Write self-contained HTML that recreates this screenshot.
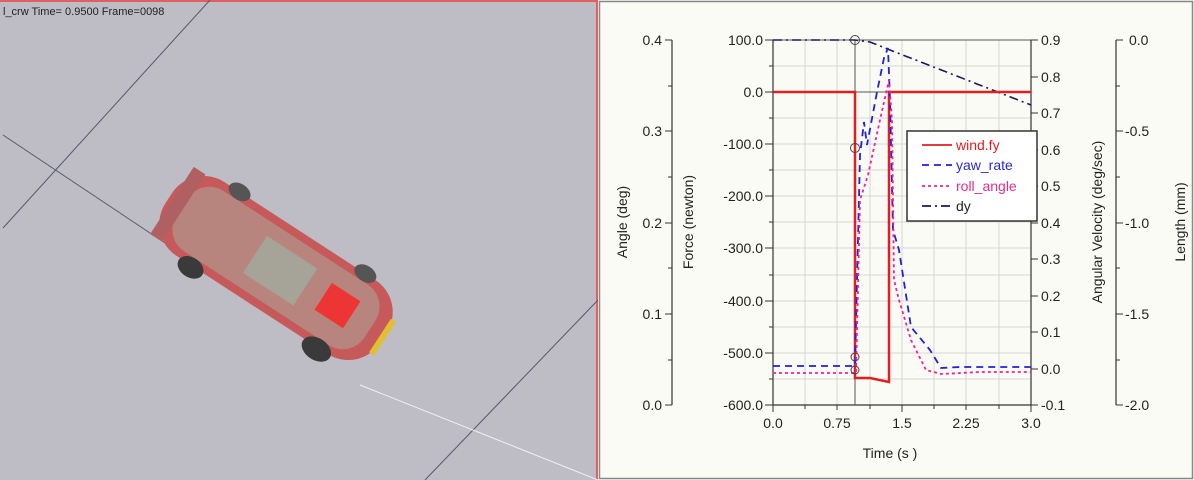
<!DOCTYPE html>
<html><head><meta charset="utf-8"><style>
html,body{margin:0;padding:0;width:1194px;height:480px;overflow:hidden;background:#fff}
svg{display:block;font-family:"Liberation Sans",Arial,sans-serif}
</style></head><body>
<svg width="1194" height="480" viewBox="0 0 1194 480">
<rect x="0" y="0" width="598" height="480" fill="#bebcc4"/>
<rect x="0" y="0" width="598" height="2" fill="#e06060"/>
<rect x="596" y="0" width="2" height="480" fill="#e06060"/>
<text x="3" y="15" font-size="11" fill="#222">l_crw   Time=  0.9500  Frame=0098</text>
<g stroke="#555a70" stroke-width="1" fill="none">
<line x1="3" y1="228" x2="210" y2="0"/>
<line x1="3" y1="135" x2="165" y2="243"/>
<line x1="425" y1="480" x2="598" y2="300"/>
</g>
<line x1="360" y1="385" x2="598" y2="480" stroke="#f0f0f0" stroke-width="1"/>
<g transform="translate(276,268) rotate(33)">
<rect x="-128" y="-44" width="256" height="88" rx="38" fill="#c65a5a"/>
<rect x="-112" y="-36" width="224" height="72" rx="26" fill="#b8847e"/>
<rect x="-25" y="-22" width="60" height="44" fill="#a6a498"/>
<rect x="55" y="-18" width="34" height="32" fill="#ee3535"/>
<rect x="-124" y="-40" width="14" height="80" fill="#b06060"/>
<ellipse cx="-72" cy="46" rx="14" ry="10" fill="#3a3a3a"/>
<ellipse cx="78" cy="46" rx="16" ry="11" fill="#3a3a3a"/>
<ellipse cx="-72" cy="-44" rx="12" ry="8" fill="#555"/>
<ellipse cx="78" cy="-44" rx="12" ry="8" fill="#555"/>
<rect x="124" y="-20" width="6" height="40" fill="#e0c030"/>
</g>
<rect x="598" y="0" width="596" height="480" fill="#fbfbf6"/>
<rect x="599.5" y="1.5" width="593" height="477" fill="none" stroke="#888" stroke-width="1.5"/>
<g stroke="#d4d4d4" stroke-width="1">
<line x1="805" y1="40" x2="805" y2="405"/><line x1="837" y1="40" x2="837" y2="405"/><line x1="870" y1="40" x2="870" y2="405"/><line x1="902" y1="40" x2="902" y2="405"/><line x1="934" y1="40" x2="934" y2="405"/><line x1="966" y1="40" x2="966" y2="405"/><line x1="999" y1="40" x2="999" y2="405"/>
<line x1="773" y1="66" x2="1031" y2="66"/><line x1="773" y1="118" x2="1031" y2="118"/><line x1="773" y1="144" x2="1031" y2="144"/><line x1="773" y1="170" x2="1031" y2="170"/><line x1="773" y1="196" x2="1031" y2="196"/><line x1="773" y1="222" x2="1031" y2="222"/><line x1="773" y1="248" x2="1031" y2="248"/><line x1="773" y1="275" x2="1031" y2="275"/><line x1="773" y1="301" x2="1031" y2="301"/><line x1="773" y1="327" x2="1031" y2="327"/><line x1="773" y1="353" x2="1031" y2="353"/><line x1="773" y1="379" x2="1031" y2="379"/>
</g>
<line x1="773" y1="92" x2="1031" y2="92" stroke="#555" stroke-width="1"/>
<line x1="773" y1="40" x2="1031" y2="40" stroke="#555" stroke-width="1"/>
<g stroke="#333" stroke-width="1.2" fill="none">
<line x1="672" y1="40" x2="672" y2="405"/>
<line x1="773" y1="40" x2="773" y2="405"/>
<line x1="773" y1="405" x2="1031" y2="405"/>
<line x1="1031" y1="40" x2="1031" y2="405"/>
<line x1="1116" y1="40" x2="1116" y2="405"/>
</g>
<g stroke="#333" stroke-width="1">
<path d="M665 40h7M665 131h7M665 223h7M665 314h7M665 405h7M668 86h4M668 177h4M668 268h4M668 360h4"/>
<path d="M765 40h8M765 92h8M765 144h8M765 196h8M765 248h8M765 301h8M765 353h8M765 405h8M769 66h4M769 118h4M769 170h4M769 222h4M769 275h4M769 327h4M769 379h4"/>
<path d="M1031 40h7M1031 77h7M1031 113h7M1031 150h7M1031 186h7M1031 223h7M1031 259h7M1031 296h7M1031 332h7M1031 369h7M1031 405h7"/>
<path d="M1116 40h7M1116 131h7M1116 223h7M1116 314h7M1116 405h7M1116 86h4M1116 177h4M1116 268h4M1116 360h4"/>
<path d="M773 405v7M837 405v5M902 405v7M966 405v5M1031 405v7M805 405v4M870 405v4M934 405v4M999 405v4"/>
</g>
<g font-size="14" fill="#222" text-anchor="end">
<text x="662" y="45">0.4</text><text x="662" y="136">0.3</text><text x="662" y="228">0.2</text><text x="662" y="319">0.1</text><text x="662" y="410">0.0</text>
<text x="763" y="45">100.0</text><text x="763" y="97">0.0</text><text x="763" y="149">-100.0</text><text x="763" y="201">-200.0</text><text x="763" y="253">-300.0</text><text x="763" y="306">-400.0</text><text x="763" y="358">-500.0</text><text x="763" y="410">-600.0</text>
</g>
<g font-size="14" fill="#222">
<text x="1041" y="45">0.9</text><text x="1041" y="82">0.8</text><text x="1041" y="118">0.7</text><text x="1041" y="155">0.6</text><text x="1041" y="191">0.5</text><text x="1041" y="228">0.4</text><text x="1041" y="264">0.3</text><text x="1041" y="301">0.2</text><text x="1041" y="337">0.1</text><text x="1041" y="374">0.0</text><text x="1041" y="410">-0.1</text>
<text x="1129" y="45">0.0</text><text x="1125" y="136">-0.5</text><text x="1125" y="228">-1.0</text><text x="1125" y="319">-1.5</text><text x="1125" y="410">-2.0</text>
</g>
<g font-size="14" fill="#222" text-anchor="middle">
<text x="773" y="428">0.0</text><text x="837" y="428">0.75</text><text x="902" y="428">1.5</text><text x="966" y="428">2.25</text><text x="1031" y="428">3.0</text>
<text x="890" y="458">Time (s  )</text>
<text transform="translate(627,222) rotate(-90)">Angle (deg)</text>
<text transform="translate(693,222) rotate(-90)">Force (newton)</text>
<text transform="translate(1102,222) rotate(-90)">Angular Velocity (deg/sec)</text>
<text transform="translate(1185,222) rotate(-90)">Length (mm)</text>
</g>
<line x1="855" y1="40" x2="855" y2="405" stroke="#555" stroke-width="1"/>
<polyline points="773,40 855,40 870,42 890,50 1031,105" fill="none" stroke="#1a1a5a" stroke-width="1.6" stroke-dasharray="9,4,2,4"/>
<polyline points="773,92 855,92 855,378 870,378 889,382 889,92 1031,92" fill="none" stroke="#e02020" stroke-width="2.5"/>
<polyline points="773,366 855,366 860,155 864,122 867,145 877,92 884,58 888,48 890,100 893,230 899,250 911,327 930,350 941,368 960,367 1031,367" fill="none" stroke="#2020dd" stroke-width="1.8" stroke-dasharray="7,5"/>
<polyline points="773,373 856,373 860,200 868,175 880,120 889,80 892,120 894,280 899,300 911,340 926,370 941,374 980,372 1031,372" fill="none" stroke="#ee2299" stroke-width="1.8" stroke-dasharray="3,3"/>
<g fill="none" stroke="#444" stroke-width="1">
<circle cx="855" cy="40" r="4.5"/><circle cx="855" cy="148" r="4.5"/><circle cx="855" cy="357" r="4"/><circle cx="855" cy="370" r="4"/>
</g>
<rect x="907" y="131" width="130" height="90" fill="#fff" stroke="#333" stroke-width="1.5"/>
<g stroke-width="1.8" fill="none">
<line x1="922" y1="145" x2="952" y2="145" stroke="#e02020"/>
<line x1="922" y1="165" x2="952" y2="165" stroke="#2020dd" stroke-dasharray="7,5"/>
<line x1="922" y1="186" x2="952" y2="186" stroke="#ee2299" stroke-dasharray="3,3"/>
<line x1="922" y1="206" x2="952" y2="206" stroke="#1a1a5a" stroke-dasharray="9,4,2,4"/>
</g>
<g font-size="14">
<text x="956" y="150" fill="#e02020">wind.fy</text>
<text x="956" y="170" fill="#2a2ad0">yaw_rate</text>
<text x="956" y="191" fill="#e0308a">roll_angle</text>
<text x="956" y="211" fill="#222">dy</text>
</g>
</svg>
</body></html>
